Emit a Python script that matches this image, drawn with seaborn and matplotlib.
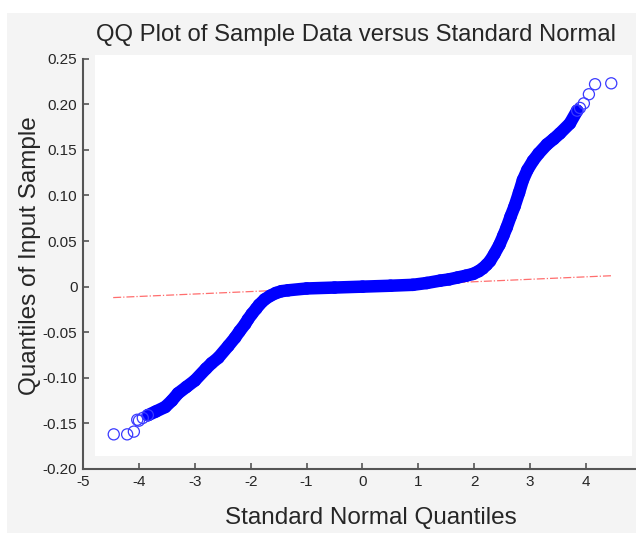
import matplotlib
matplotlib.use("Agg")
import matplotlib.pyplot as plt
from matplotlib.patches import Rectangle
import seaborn as sns

# sparse outer points (drawn as single hollow circles)
tail_x = [-4.45, -4.21, -4.09, -4.03, -4.00, -3.93, -3.84,
          3.84, 3.89, 3.96, 4.05, 4.16, 4.45]
tail_y = [-0.162, -0.162, -0.159, -0.146, -0.147, -0.144, -0.141,
          0.193, 0.196, 0.201, 0.211, 0.222, 0.223]

# dense body of the QQ curve (markers overlap into a solid band)
body_x = [-3.84, -3.70, -3.53, -3.41, -3.30, -3.15, -3.00, -2.80, -2.70, -2.58,
          -2.40, -2.28, -2.20, -2.10, -2.05, -1.98, -1.90, -1.85, -1.75, -1.65,
          -1.55, -1.45, -1.33, -1.00, -0.50, 0.00, 0.50, 0.90, 1.15, 1.39,
          1.55, 1.70, 1.85, 1.98, 2.08, 2.15, 2.22, 2.28, 2.36, 2.45,
          2.52, 2.58, 2.65, 2.72, 2.80, 2.87, 2.95, 3.05, 3.15, 3.30,
          3.42, 3.53, 3.71, 3.84]
body_y = [-0.141, -0.137, -0.132, -0.125, -0.117, -0.110, -0.103, -0.090, -0.084, -0.078,
          -0.065, -0.056, -0.049, -0.041, -0.036, -0.030, -0.024, -0.020, -0.014, -0.010,
          -0.007, -0.005, -0.004, -0.002, -0.001, 0.000, 0.001, 0.002, 0.004, 0.0066,
          0.008, 0.010, 0.012, 0.014, 0.017, 0.020, 0.024, 0.028, 0.036, 0.046,
          0.056, 0.065, 0.077, 0.088, 0.103, 0.117, 0.128, 0.138, 0.146, 0.156,
          0.162, 0.168, 0.179, 0.193]

# fitted reference line
ref_x = [-4.46, 4.46]
ref_y = [-0.012, 0.012]

x_ticks = [-5, -4, -3, -2, -1, 0, 1, 2, 3, 4]
y_ticks = [-0.20, -0.15, -0.10, -0.05, 0, 0.05, 0.10, 0.15, 0.20, 0.25]
y_ticklabels = ["-0.20", "-0.15", "-0.10", "-0.05", "0", "0.05", "0.10", "0.15", "0.20", "0.25"]

sns.set_theme(style="ticks")
plt.rcParams['font.family'] = ['Liberation Sans', 'DejaVu Sans']
plt.rcParams['axes.unicode_minus'] = False

W, H = 636, 533
fig = plt.figure(figsize=(W / 100, H / 100), dpi=100, facecolor='white')

# light gray backdrop with white plotting panel
fig.patches.append(Rectangle((7 / W, 0), 1, 1 - 13 / H, transform=fig.transFigure,
                             facecolor='#f4f4f4', edgecolor='none', zorder=-2))
fig.patches.append(Rectangle((95 / W, (H - 456) / H), (632 - 95) / W, (456 - 55) / H,
                             transform=fig.transFigure, facecolor='white',
                             edgecolor='none', zorder=-1))

ax = fig.add_axes([83 / W, 64 / H, 559 / W, 410.3 / H])
ax.set_facecolor('none')

sns.lineplot(x=ref_x, y=ref_y, ax=ax, color='#ff3030', alpha=0.7,
             linestyle='-.', linewidth=0.9, zorder=2)
sns.lineplot(x=body_x, y=body_y, ax=ax, sort=False, color='#0000ff',
             linewidth=9, solid_capstyle='round', solid_joinstyle='round', zorder=3)
sns.scatterplot(x=body_x, y=body_y, ax=ax, marker='o', s=64,
                facecolors='none', edgecolor='#0000ff', linewidth=1.0, zorder=3)
sns.scatterplot(x=tail_x, y=tail_y, ax=ax, marker='o', s=64,
                facecolors='none', edgecolor='#3a3aff', linewidth=0.9, zorder=3)

ax.set_xlim(-5, 5)
ax.set_ylim(-0.20, 0.25)
ax.set_xticks(x_ticks)
ax.set_yticks(y_ticks)
ax.set_yticklabels(y_ticklabels)
ax.tick_params(direction='in', length=4, width=1.2, colors='#555555',
               labelcolor='#262626', labelsize=11, pad=4)
for side in ['top', 'right']:
    ax.spines[side].set_visible(False)
for side in ['left', 'bottom']:
    ax.spines[side].set_color('#555555')
    ax.spines[side].set_linewidth(1.5)

ax.set_title("QQ Plot of Sample Data versus Standard Normal", fontsize=17.2,
             color='#262626', pad=13, x=0.489)
ax.set_xlabel("Standard Normal Quantiles", fontsize=17.5, color='#262626')
ax.set_ylabel("Quantiles of Input Sample", fontsize=17.5, color='#262626')
ax.xaxis.set_label_coords(0.515, -0.093)
ax.yaxis.set_label_coords(-0.076, 0.52)

fig.savefig("out.png", dpi=100, facecolor=fig.get_facecolor())
